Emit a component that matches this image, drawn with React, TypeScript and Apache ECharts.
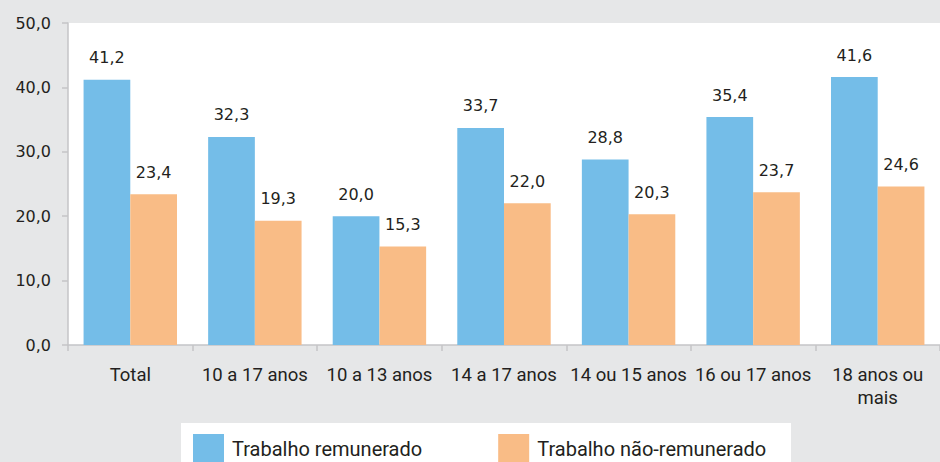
import React, { useEffect, useRef } from "react";
import * as echarts from "echarts";

const categories = ["Total", "10 a 17 anos", "10 a 13 anos", "14 a 17 anos", "14 ou 15 anos", "16 ou 17 anos", "18 anos ou\nmais"];
const paid = [41.2, 32.3, 20.0, 33.7, 28.8, 35.4, 41.6];
const unpaid = [23.4, 19.3, 15.3, 22.0, 20.3, 23.7, 24.6];
const seriesNames = ["Trabalho remunerado", "Trabalho não-remunerado"];

const FONT_TXT = "Roboto, 'Liberation Sans', Arial, sans-serif";
const FONT_NUM = "'DejaVu Sans', 'Liberation Sans', Arial, sans-serif";
const TXT = "#231f20";

export default function App() {
  const ref = useRef<HTMLDivElement>(null);
  useEffect(() => {
    const chart = echarts.init(ref.current!, null, { renderer: "svg" });
    const fmt = (v: number) => v.toFixed(1).replace(".", ",");
    const label = {
      show: true,
      position: "top",
      distance: 14,
      color: TXT,
      fontSize: 16,
      fontFamily: FONT_NUM,
      formatter: (p: any) => fmt(p.value),
    };
    chart.setOption({
      animation: false,
      backgroundColor: "#e6e7e8",
      textStyle: { fontFamily: FONT_TXT },
      grid: {
        left: 68,
        right: 0,
        top: 23,
        bottom: 117,
        show: true,
        backgroundColor: "#ffffff",
        borderWidth: 0,
      },
      graphic: [
        {
          type: "rect",
          shape: { x: 181, y: 423, width: 610, height: 50 },
          style: { fill: "#ffffff" },
          z: 0,
        },
      ],
      legend: {
        left: 181,
        top: 423,
        padding: [11, 12, 10, 12],
        itemWidth: 31,
        itemHeight: 30,
        itemGap: 76,
        icon: "rect",
        textStyle: { fontSize: 20, color: TXT, fontFamily: FONT_TXT, padding: [0, 0, 0, 3] },
        data: seriesNames,
        z: 5,
      },
      xAxis: {
        type: "category",
        data: categories,
        axisLine: { lineStyle: { color: "#c4c5c7", width: 1.5 } },
        axisTick: { show: true, length: 6, lineStyle: { color: "#c4c5c7", width: 1.5 } },
        axisLabel: { interval: 0, color: TXT, fontSize: 18.5, fontFamily: FONT_TXT, margin: 18, lineHeight: 23 },
      },
      yAxis: {
        type: "value",
        min: 0,
        max: 50,
        interval: 10,
        axisLine: { show: true, lineStyle: { color: "#c4c5c7", width: 1.5 } },
        axisTick: { show: true, length: 6, lineStyle: { color: "#c4c5c7", width: 1.5 } },
        splitLine: { show: false },
        axisLabel: { color: TXT, fontSize: 16, fontFamily: FONT_NUM, margin: 17, formatter: (v: number) => fmt(v) },
      },
      series: [
        {
          name: seriesNames[0],
          type: "bar",
          data: paid,
          itemStyle: { color: "#74bde8" },
          barGap: "0%",
          barCategoryGap: "25%",
          label,
        },
        {
          name: seriesNames[1],
          type: "bar",
          data: unpaid,
          itemStyle: { color: "#f9bc86" },
          label,
        },
      ],
    });
    return () => chart.dispose();
  }, []);
  return <div ref={ref} style={{ width: 940, height: 462, position: "fixed", left: 0, top: 0 }} />;
}
